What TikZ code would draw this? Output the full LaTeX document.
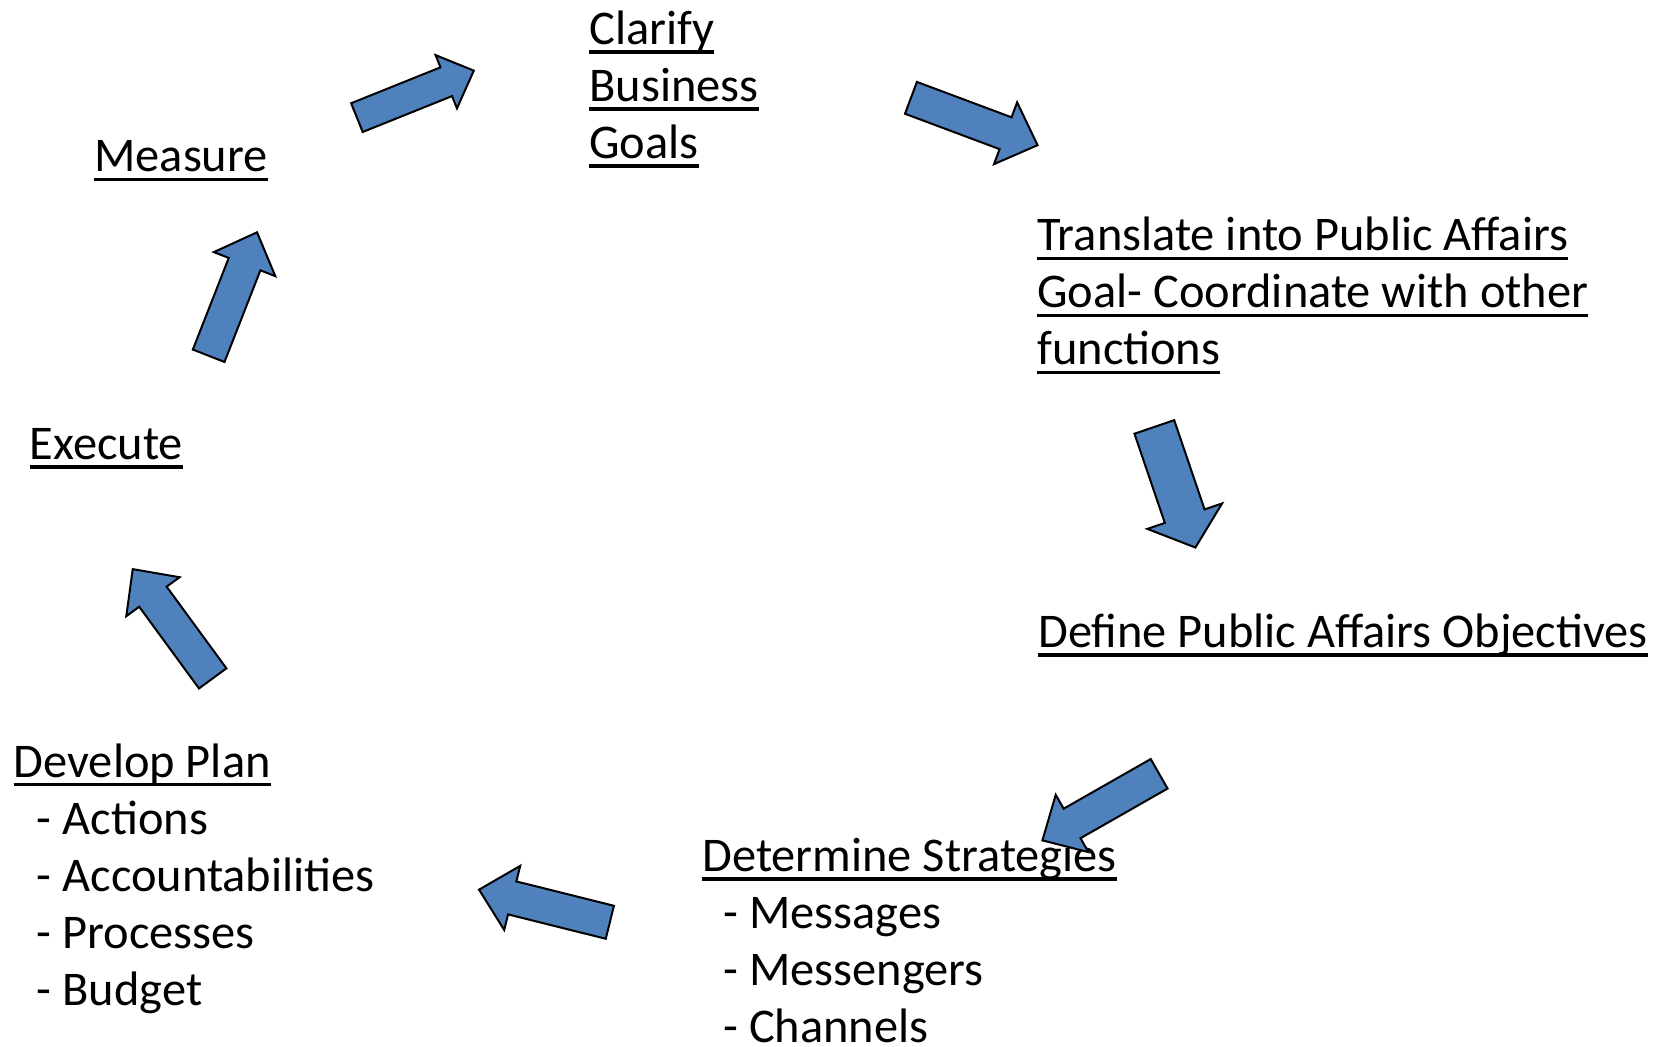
\documentclass[tikz,border=0pt]{standalone}
\usepackage{fontspec}
\setmainfont{Carlito}
\usepackage{tikz}
\usetikzlibrary{shapes.arrows}
\definecolor{arrowblue}{HTML}{4F81BD}
\newcommand\ulin[1]{\setbox0\hbox{#1}\rlap{\rule[-0.19em]{\wd0}{0.072em}}\box0}
\tikzset{
	lbl/.style={anchor=base west, align=left, inner sep=0pt, font=\fontsize{24.2}{28.5}\selectfont},
	blockarrow/.style={single arrow, draw=black, line width=1pt, fill=arrowblue, inner xsep=0pt, inner ysep=8pt, anchor=tail, single arrow head extend=8pt, single arrow tip angle=88}
}
\begin{document}
\begin{tikzpicture}[x=0.5pt, y=-0.5pt]
			\useasboundingbox (0,0) rectangle (1668,1047);
			\node[lbl] (clarify) at (589,158.5) {\ulin{Clarify}\\\ulin{Business}\\\ulin{Goals}};
			\node[lbl] (translate) at (1037,365) {\ulin{Translate into Public Affairs}\\\ulin{Goal- Coordinate with other}\\\ulin{functions}};
			\node[lbl] (define) at (1038,647.5) {\ulin{Define Public Affairs Objectives}};
			\node[lbl] (determine) at (702,1042.5) {\ulin{Determine Strategies}\\\hspace*{10.5pt}- Messages\\\hspace*{10.5pt}- Messengers\\\hspace*{10.5pt}- Channels};
			\node[lbl] (plan) at (13.5,1005) {\ulin{Develop Plan}\\\hspace*{11.5pt}- Actions\\\hspace*{11.5pt}- Accountabilities\\\hspace*{11.5pt}- Processes\\\hspace*{11.5pt}- Budget};
			\node[lbl] (execute) at (29.5,459.5) {\ulin{Execute}};
			\node[lbl] (measure) at (94,172) {\ulin{Measure}};
			\node[blockarrow, rotate=21.9, minimum height=63pt, inner ysep=7.25pt, single arrow head extend=6.6pt] (m2c) at (356,118) {};
			\node[blockarrow, rotate=-20.5, minimum height=67.6pt] (c2t) at (910,97.5) {};
			\node[blockarrow, rotate=-71.2, minimum height=63.7pt, inner ysep=10pt, single arrow head extend=9.25pt, single arrow tip angle=100] (t2d) at (1154,426) {};
			\node[blockarrow, rotate=209.7, minimum height=67.2pt] (d2s) at (1160,773.3) {};
			\node[blockarrow, rotate=166, minimum height=67.4pt] (s2p) at (610.8,922.5) {};
			\node[blockarrow, rotate=126.2, minimum height=67.7pt] (p2e) at (213.3,679.2) {};
			\node[blockarrow, rotate=68.6, minimum height=66.3pt] (e2m) at (208.3,356.7) {};
		\end{tikzpicture}
\end{document}
